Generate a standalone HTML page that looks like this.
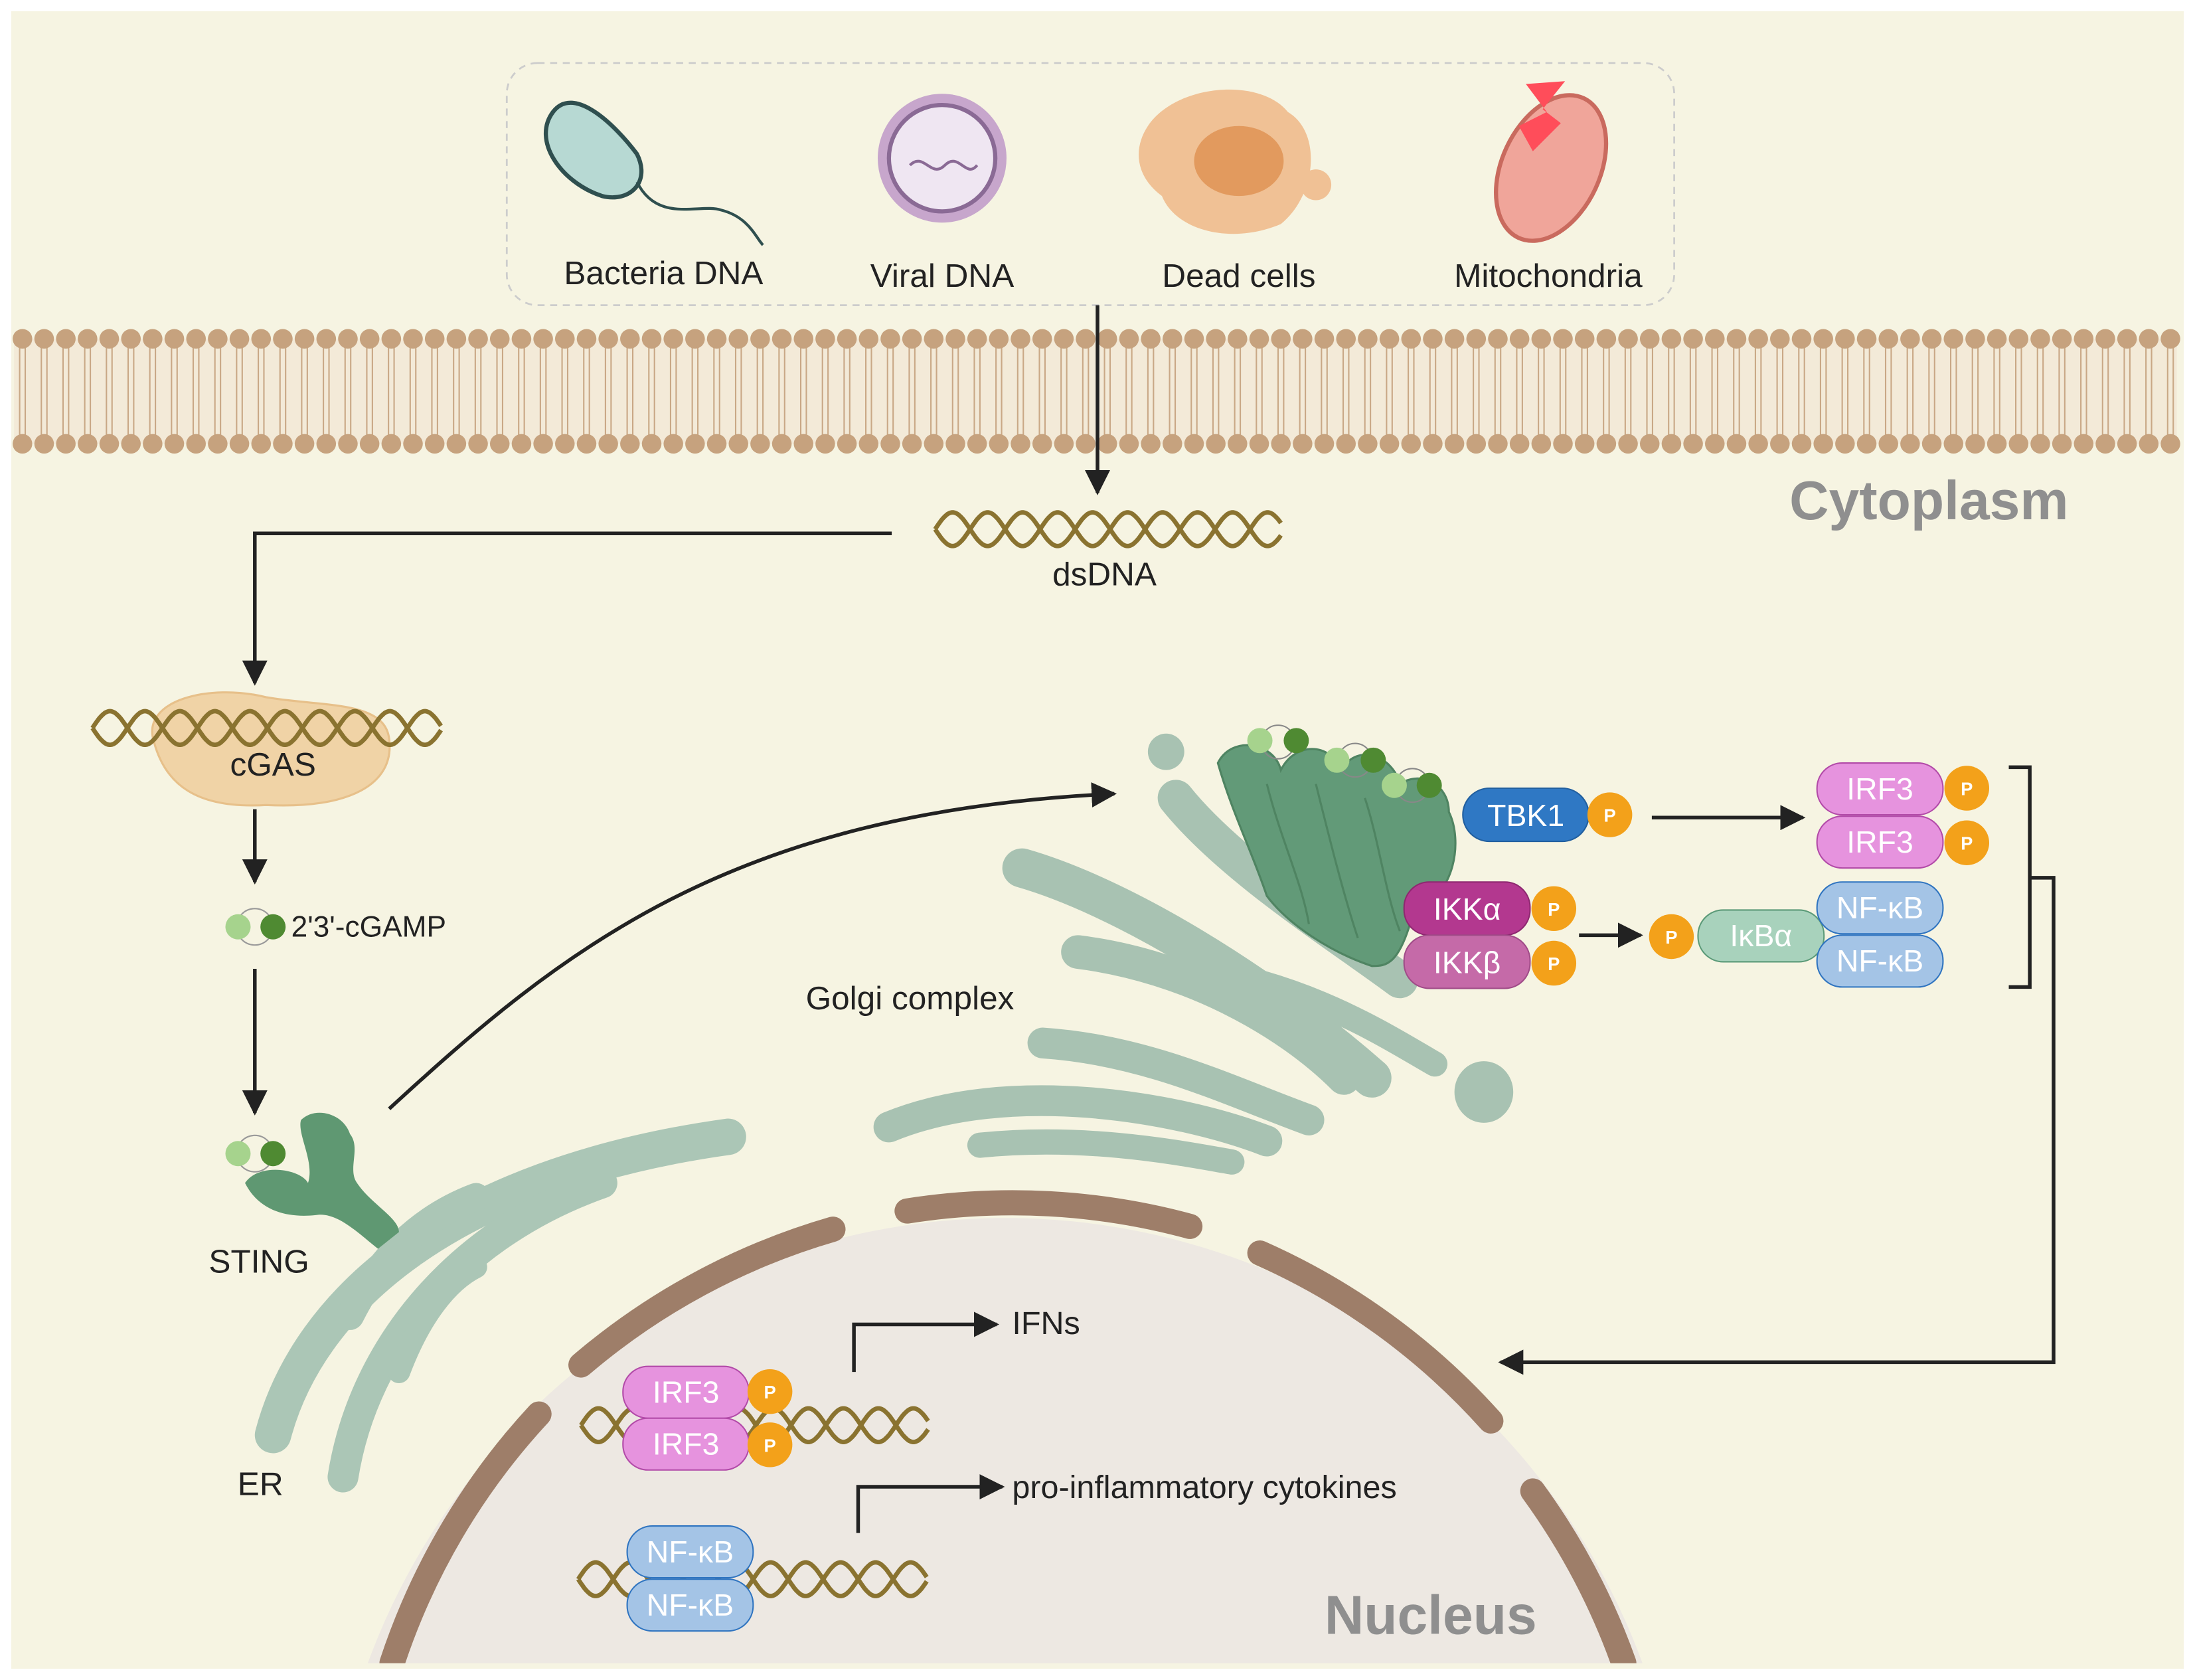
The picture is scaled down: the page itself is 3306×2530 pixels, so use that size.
<!DOCTYPE html>
<html><head><meta charset="utf-8"><style>
html,body{margin:0;padding:0;background:#fff;width:3306px;height:2530px;overflow:hidden}
svg{display:block}
text{font-family:"Liberation Sans",sans-serif}
</style></head><body>
<svg id="s" width="3306" height="2530" viewBox="0 0 1568 1200" xmlns="http://www.w3.org/2000/svg">
<defs>
<marker id="ah2" viewBox="0 0 10 10" markerWidth="18" markerHeight="18" refX="9" refY="5" orient="auto" markerUnits="userSpaceOnUse"><path d="M0,0 L10,5 L0,10 Z" fill="#222"/></marker>
</defs>
<rect x="0" y="0" width="1568" height="1200" fill="#fff"/>
<rect x="8" y="8" width="1552" height="1184" fill="#f6f4e2"/>
<rect x="362" y="45" width="834" height="173" rx="22" fill="none" stroke="#ccc" stroke-dasharray="5,4" stroke-width="1.3"/>
<g id="membrane"></g>
<clipPath id="cp"><rect x="8" y="8" width="1552" height="1180"/></clipPath>
<g clip-path="url(#cp)">
<circle cx="718" cy="1355" r="485" fill="#ede8e2"/>
<g fill="none" stroke="#9e7e69" stroke-width="18" stroke-linecap="round">
<path d="M280,1188 A485,485 0 0 1 385,1010"/>
<path d="M415,975 A485,485 0 0 1 595,878"/>
<path d="M648,865 A485,485 0 0 1 850,876"/>
<path d="M900,895 A485,485 0 0 1 1065,1015"/>
<path d="M1095,1065 A485,485 0 0 1 1160,1188"/>
</g>
</g>
<g fill="none" stroke="#abc6b6" stroke-linecap="round">
<path d="M195,1025 C220,930 320,840 520,812" stroke-width="26"/>
<path d="M245,1055 C260,960 330,880 430,845" stroke-width="22"/>
<path d="M250,940 C270,900 300,870 340,855" stroke-width="20"/>
<path d="M285,980 C300,940 320,915 340,905" stroke-width="16"/>
</g>
<g fill="none" stroke="#a8c2b2" stroke-linecap="round">
<path d="M840,570 C880,620 960,670 1000,700" stroke-width="26"/>
<path d="M730,620 C800,640 900,700 980,770" stroke-width="28"/>
<path d="M770,680 C850,690 920,730 960,770" stroke-width="24"/>
<path d="M745,745 C820,750 880,780 935,800" stroke-width="22"/>
<path d="M635,805 C720,770 840,790 905,815" stroke-width="22"/>
<path d="M700,818 C780,810 850,825 880,830" stroke-width="18"/>
<path d="M840,690 C930,700 990,740 1025,760" stroke-width="18"/>
</g>
<circle cx="833" cy="537" r="13" fill="#a8c2b2"/>
<ellipse cx="1060" cy="780" rx="21" ry="22" fill="#a8c2b2"/>
<g fill="#629a78" stroke="#4f8462" stroke-width="1.5">
<path d="M870,545 C880,525 910,530 915,550 C925,530 950,530 958,550 C970,530 995,540 1000,560 C1015,550 1035,560 1035,580 C1045,600 1040,640 1010,650 C1000,690 990,690 980,690 C950,680 920,660 905,640 C895,610 880,580 870,545 Z"/>
<path d="M905,560 C915,600 930,630 935,660" fill="none"/>
<path d="M940,560 C950,600 960,640 970,670" fill="none"/>
<path d="M975,570 C985,600 990,640 1000,665" fill="none"/>
</g>
<g stroke="#888" stroke-width="1" fill="none"><circle cx="913" cy="530" r="12"/><circle cx="968" cy="543" r="12"/><circle cx="1009" cy="561" r="12"/></g>
<circle cx="900" cy="529" r="9" fill="#a6d38d"/><circle cx="926" cy="529" r="9" fill="#4f8a32"/>
<circle cx="955" cy="543" r="9" fill="#a6d38d"/><circle cx="981" cy="543" r="9" fill="#4f8a32"/>
<circle cx="996" cy="561" r="9" fill="#a6d38d"/><circle cx="1021" cy="561" r="9" fill="#4f8a32"/>
<g id="helix"></g>
<path d="M110,530 C100,500 150,488 190,498 C230,505 275,500 278,528 C282,560 250,578 190,575 C140,578 118,560 110,530 Z" fill="#f0d3a6" stroke="#e7c08a" stroke-width="1.5"/>
<g id="helix2"></g>
<g stroke="#222" stroke-width="2.6" fill="none">
<line x1="784" y1="218" x2="784" y2="352" marker-end="url(#ah2)"/>
<polyline points="637,381 182,381 182,488" marker-end="url(#ah2)"/>
<line x1="182" y1="578" x2="182" y2="630" marker-end="url(#ah2)"/>
<line x1="182" y1="692" x2="182" y2="795" marker-end="url(#ah2)"/>
<path d="M278,792 C400,680 520,580 796,567" marker-end="url(#ah2)"/>
<line x1="1180" y1="584" x2="1288" y2="584" marker-end="url(#ah2)"/>
<line x1="1128" y1="668" x2="1172" y2="668" marker-end="url(#ah2)"/>
<polyline points="1435,548 1450,548 1450,705 1435,705"/>
<polyline points="1450,627 1467,627 1467,973 1072,973" marker-end="url(#ah2)"/>
<polyline points="610,980 610,946 712,946" marker-end="url(#ah2)"/>
<polyline points="613,1095 613,1062 716,1062" marker-end="url(#ah2)"/>
</g>
<circle cx="182" cy="662" r="13" fill="none" stroke="#999"/>
<circle cx="170" cy="662" r="9" fill="#a6d38d"/><circle cx="195" cy="662" r="9" fill="#4f8a32"/>
<text x="208" y="669" font-size="21" fill="#222">2'3'-cGAMP</text>
<path d="M175,845 C185,830 215,835 220,845 C225,830 212,810 215,800 C225,790 245,795 250,810 C258,820 248,835 255,845 C265,860 285,870 285,880 L270,892 C255,880 240,865 225,868 C205,870 185,865 175,845 Z" fill="#5f9872"/>
<circle cx="182" cy="824" r="13" fill="none" stroke="#999"/>
<circle cx="170" cy="824" r="9" fill="#a6d38d"/><circle cx="195" cy="824" r="9" fill="#4f8a32"/>
<g font-size="22" fill="#fff" text-anchor="middle">
<rect x="1045" y="563" width="90" height="38" rx="19" fill="#2f78c4" stroke="#215f9f"/><text x="1090" y="590">TBK1</text>
<rect x="1298" y="545" width="90" height="37" rx="18" fill="#e693de" stroke="#b24aa8"/><text x="1343" y="571">IRF3</text>
<rect x="1298" y="583" width="90" height="37" rx="18" fill="#e693de" stroke="#b24aa8"/><text x="1343" y="609">IRF3</text>
<rect x="1003" y="630" width="90" height="38" rx="18" fill="#b3388f" stroke="#8e2870"/><text x="1048" y="657">IKKα</text>
<rect x="1003" y="668" width="90" height="38" rx="18" fill="#c56aa8" stroke="#a04c88"/><text x="1048" y="695">IKKβ</text>
<rect x="1213" y="650" width="90" height="37" rx="18" fill="#a8d2bc" stroke="#5b9a78"/><text x="1258" y="676">IκBα</text>
<rect x="1298" y="630" width="90" height="37" rx="18" fill="#a4c4e6" stroke="#2f74c0"/><text x="1343" y="656">NF-κB</text>
<rect x="1298" y="668" width="90" height="37" rx="18" fill="#a4c4e6" stroke="#2f74c0"/><text x="1343" y="694">NF-κB</text>
<rect x="445" y="976" width="90" height="37" rx="18" fill="#e693de" stroke="#b24aa8"/><text x="490" y="1002">IRF3</text>
<rect x="445" y="1013" width="90" height="37" rx="18" fill="#e693de" stroke="#b24aa8"/><text x="490" y="1039">IRF3</text>
<rect x="448" y="1090" width="90" height="37" rx="18" fill="#a4c4e6" stroke="#2f74c0"/><text x="493" y="1116">NF-κB</text>
<rect x="448" y="1128" width="90" height="37" rx="18" fill="#a4c4e6" stroke="#2f74c0"/><text x="493" y="1154">NF-κB</text>
</g>
<g font-size="13" font-weight="bold" fill="#fff" text-anchor="middle">
<circle cx="1150" cy="582" r="16" fill="#f3a11a"/><text x="1150" y="587">P</text>
<circle cx="1405" cy="563" r="16" fill="#f3a11a"/><text x="1405" y="568">P</text>
<circle cx="1405" cy="602" r="16" fill="#f3a11a"/><text x="1405" y="607">P</text>
<circle cx="1110" cy="649" r="16" fill="#f3a11a"/><text x="1110" y="654">P</text>
<circle cx="1110" cy="688" r="16" fill="#f3a11a"/><text x="1110" y="693">P</text>
<circle cx="1194" cy="669" r="16" fill="#f3a11a"/><text x="1194" y="674">P</text>
<circle cx="550" cy="994" r="16" fill="#f3a11a"/><text x="550" y="999">P</text>
<circle cx="550" cy="1032" r="16" fill="#f3a11a"/><text x="550" y="1037">P</text>
</g>
<g>
<path d="M395,80 C380,100 400,130 430,140 C450,145 465,130 455,110 C440,90 410,60 395,80 Z" fill="#b7d9d3" stroke="#2f4f4f" stroke-width="3"/>
<path d="M455,130 C470,160 500,145 515,150 C535,155 540,170 545,175" fill="none" stroke="#2f4f4f" stroke-width="2"/>
<circle cx="673" cy="113" r="46" fill="#c7a6cc"/>
<circle cx="673" cy="113" r="38" fill="#efe6f2" stroke="#8a6a95" stroke-width="3"/>
<path d="M650,118 C660,108 665,128 675,118 C685,108 690,128 698,118" fill="none" stroke="#8a6a95" stroke-width="2"/>
<path d="M820,90 C840,60 900,55 920,80 C945,95 940,140 915,160 C880,175 840,165 830,140 C810,125 810,105 820,90 Z" fill="#f0c195"/>
<ellipse cx="885" cy="115" rx="32" ry="25" fill="#e29a5e"/>
<circle cx="940" cy="132" r="11" fill="#f0c195"/>
<ellipse cx="1108" cy="120" rx="35" ry="55" transform="rotate(25 1108 120)" fill="#f0a59a" stroke="#c96a5e" stroke-width="3"/>
<path d="M1090,60 L1105,80 L1085,90 L1095,108 L1115,88 L1102,78 L1118,58 Z" fill="#ff4d5a"/>
</g>
<g font-size="23.5" fill="#222" text-anchor="middle">
<text x="474" y="203">Bacteria DNA</text>
<text x="673" y="205">Viral DNA</text>
<text x="885" y="205">Dead cells</text>
<text x="1106" y="205">Mitochondria</text>
<text x="789" y="418">dsDNA</text>
<text x="195" y="554">cGAS</text>
<text x="185" y="909">STING</text>
<text x="186" y="1068">ER</text>
<text x="650" y="721">Golgi complex</text>
</g>
<text x="723" y="953" font-size="23" fill="#222">IFNs</text>
<text x="723" y="1070" font-size="23" fill="#222">pro-inflammatory cytokines</text>
<text x="1378" y="371" font-size="39" font-weight="bold" fill="#8f8f8f" text-anchor="middle">Cytoplasm</text>
<text x="1022" y="1167" font-size="39" font-weight="bold" fill="#8f8f8f" text-anchor="middle">Nucleus</text>
</svg>
<script>
var m=document.getElementById("membrane"),h="";
h+='<rect x="10" y="242" width="1545" height="75" fill="#f3ead8"/>';
for(var x=16;x<=1552;x+=15.5){
 h+='<line x1="'+(x-2)+'" y1="248" x2="'+(x-2)+'" y2="311" stroke="#c9a886" stroke-width="1"/>';
 h+='<line x1="'+(x+2)+'" y1="248" x2="'+(x+2)+'" y2="311" stroke="#c9a886" stroke-width="1"/>';
 h+='<circle cx="'+x+'" cy="242" r="7" fill="#c6a27e"/>';
 h+='<circle cx="'+x+'" cy="317" r="7" fill="#c6a27e"/>';
}
m.innerHTML=h;
function helix(x0,x1,y,a,wl){
 var s='';
 [0,Math.PI].forEach(function(ph){
  var d='';
  for(var x=x0;x<=x1;x+=1){var yy=y+a*Math.sin((x-x0)/wl*2*Math.PI+ph);d+=(d?'L':'M')+x+','+yy.toFixed(1);}
  s+='<path d="'+d+'" fill="none" stroke="#8a7330" stroke-width="3.2"/>';
 });
 return s;
}
document.getElementById("helix").innerHTML=helix(668,915,378,12,50)+helix(415,663,1018,12,50)+helix(413,662,1128,12,50);
document.getElementById("helix2").innerHTML=helix(66,315,520,12,50);
</script>
</body></html>
